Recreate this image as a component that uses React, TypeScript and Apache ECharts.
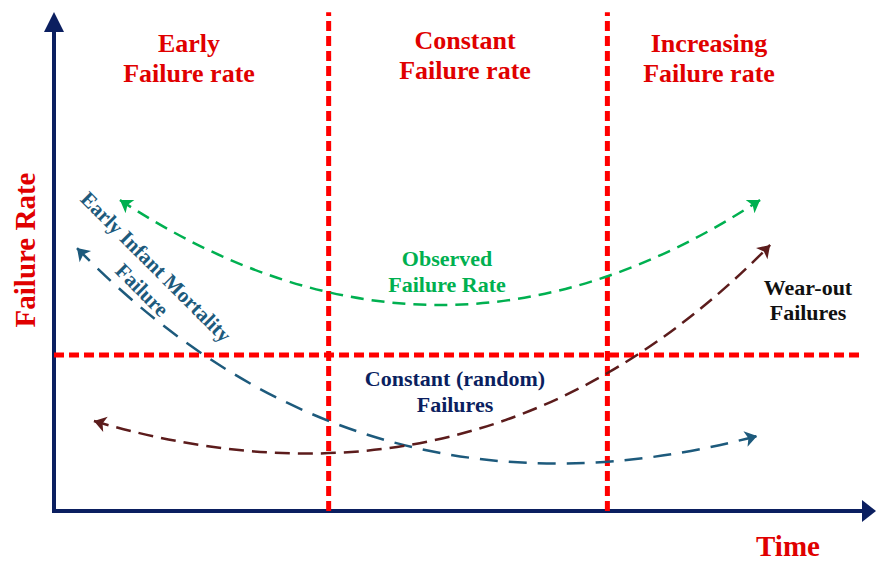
import React, { useEffect, useRef } from "react";
import * as echarts from "echarts";

// ---- data (abstract units: time 0..100, failure rate 0..100) ----
const timeRange = [0, 100];
const rateRange = [0, 100];
const regionBoundaries = [33.7, 67.9];
const boundaryTop = 102;
const constantLevel = 31.9;
const constantLevelEnd = 99;
const observedCurve = [[8.09, 63.6], [86.64, 63.6]];
const observedCurveness = -0.328;
const infantCurve = [[2.82, 53.78], [86.27, 15.34]];
const infantCurveness = -0.292;
const wearoutCurve = [[4.9, 18.4], [87.87, 54.4]];
const wearoutCurveness = -0.3;
const regionTitles = [
  ["Early", "Failure rate"],
  ["Constant", "Failure rate"],
  ["Increasing", "Failure rate"],
];

const RED = "#ff0000";
const TITLE_RED = "#e00000";
const NAVY = "#0b1f60";
const GREEN = "#00b050";
const TEAL = "#1d5a7c";
const BROWN = "#5c1c1c";
const SERIF = "'Liberation Serif', 'Times New Roman', serif";

function txt(text: string, x: number, y: number, size: number, fill: string, rotation = 0) {
  return {
    type: "text",
    x,
    y,
    rotation,
    silent: true,
    z: 100,
    style: {
      text,
      fill,
      font: `bold ${size}px ${SERIF}`,
      align: "center",
      verticalAlign: "middle",
      textAlign: "center",
      textVerticalAlign: "middle",
    },
  };
}

export default function App() {
  const ref = useRef<HTMLDivElement>(null);
  useEffect(() => {
    document.body.style.margin = "0";
    if (!ref.current) return;
    const chart = echarts.init(ref.current, null, { renderer: "svg" });

    const titlePos = [
      [189, 43, 73],
      [465, 40, 70],
      [709, 43, 73],
    ];
    const graphics: any[] = [];
    regionTitles.forEach((t, i) => {
      graphics.push(txt(t[0], titlePos[i][0], titlePos[i][1], 26, TITLE_RED));
      graphics.push(txt(t[1], titlePos[i][0], titlePos[i][2], 26, TITLE_RED));
    });
    graphics.push(txt("Observed", 447, 258, 22, GREEN));
    graphics.push(txt("Failure Rate", 447, 284, 22, GREEN));
    graphics.push(txt("Constant (random)", 455, 378, 22, NAVY));
    graphics.push(txt("Failures", 455, 404, 22, NAVY));
    graphics.push(txt("Wear-out", 808, 287, 22, "#111111"));
    graphics.push(txt("Failures", 808, 312, 22, "#111111"));
    graphics.push(txt("Early Infant Mortality", 156, 267, 21, TEAL, -Math.PI / 4));
    graphics.push(txt("Failure", 142, 290, 21, TEAL, -Math.PI / 4));
    graphics.push(txt("Failure Rate", 25, 250, 29, TITLE_RED, Math.PI / 2));
    graphics.push(txt("Time", 788, 546, 29, TITLE_RED));

    const redLine = (data: number[][]) => ({
      type: "line",
      data,
      symbol: "none",
      clip: false,
      silent: true,
      z: 3,
      lineStyle: { color: RED, width: 5, type: [10, 5] },
    });

    const curve = (coords: number[][], curveness: number, color: string, dash: number[]) => ({
      type: "lines",
      coordinateSystem: "cartesian2d",
      symbol: ["arrow", "arrow"],
      symbolSize: 12,
      silent: true,
      z: 4,
      lineStyle: { color, width: 2.5, type: dash, curveness, opacity: 1 },
      data: [{ coords }],
    });

    chart.setOption({
      animation: false,
      grid: { left: 54, right: 7, top: 22, bottom: 50 },
      xAxis: {
        type: "value",
        min: timeRange[0],
        max: timeRange[1],
        axisLine: {
          show: true,
          symbol: ["none", "triangle"],
          symbolSize: [22, 14],
          lineStyle: { color: NAVY, width: 4, cap: "square" },
        },
        axisTick: { show: false },
        axisLabel: { show: false },
        splitLine: { show: false },
      },
      yAxis: {
        type: "value",
        min: rateRange[0],
        max: rateRange[1],
        axisLine: {
          show: true,
          symbol: ["none", "triangle"],
          symbolSize: [20, 20],
          lineStyle: { color: NAVY, width: 4, cap: "square" },
        },
        axisTick: { show: false },
        axisLabel: { show: false },
        splitLine: { show: false },
      },
      graphic: graphics,
      series: [
        redLine([[regionBoundaries[0], rateRange[0]], [regionBoundaries[0], boundaryTop]]),
        redLine([[regionBoundaries[1], rateRange[0]], [regionBoundaries[1], boundaryTop]]),
        redLine([[timeRange[0], constantLevel], [constantLevelEnd, constantLevel]]),
        curve(observedCurve, observedCurveness, GREEN, [13, 8]),
        curve(infantCurve, infantCurveness, TEAL, [18, 11]),
        curve(wearoutCurve, wearoutCurveness, BROWN, [15, 8]),
      ],
    });
    return () => chart.dispose();
  }, []);
  return <div ref={ref} style={{ width: 876, height: 561 }} />;
}
